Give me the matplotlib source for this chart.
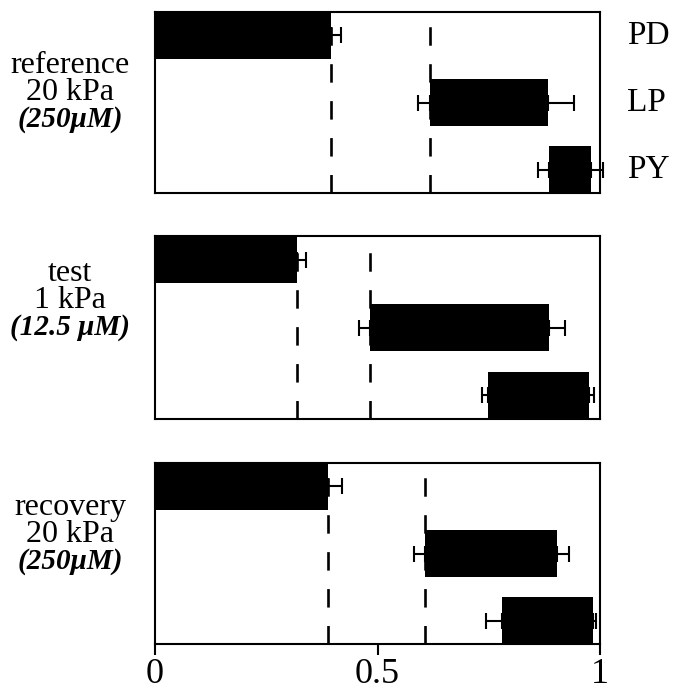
import matplotlib
matplotlib.use("Agg")
import matplotlib.pyplot as plt
import numpy as np

plt.rcParams['font.family'] = ['Liberation Serif', 'DejaVu Serif']

# ---- data (phase, fraction of cycle) ----
conditions = ["reference", "test", "recovery"]
pressures = ["20 kPa", "1 kPa", "20 kPa"]
concentrations = ["(250\u03bcM)", "(12.5 \u03bcM)", "(250\u03bcM)"]
neurons = ["PD", "LP", "PY"]

pd_end      = [0.396, 0.319, 0.389]
pd_end_err  = [0.023, 0.020, 0.031]
lp_start    = [0.619, 0.483, 0.607]
lp_start_err= [0.028, 0.025, 0.025]
lp_end      = [0.884, 0.886, 0.903]
lp_end_err  = [0.058, 0.035, 0.028]
py_start    = [0.886, 0.748, 0.779]
py_start_err= [0.026, 0.014, 0.036]
py_end      = [0.980, 0.976, 0.985]
py_end_err  = [0.026, 0.010, 0.006]

xticks = [0, 0.5, 1]
xticklabels = ["0", "0.5", "1"]

W, H = 676, 691
fig = plt.figure(figsize=(W / 100, H / 100), dpi=100)

# panel pixel boxes (top, bottom)
panels_px = [(12, 193), (236, 419), (463, 644)]
left_px, right_px = 155, 600

# left label baselines (pixels from top)
label_base = [(73, 100, 127), (281, 308, 335), (515, 542, 569)]
label_xc = 70

lw = 1.5
for i, (top, bot) in enumerate(panels_px):
    ax = fig.add_axes([left_px / W, 1 - bot / H, (right_px - left_px) / W, (bot - top) / H])
    starts = [0.0, lp_start[i], py_start[i]]
    ends = [pd_end[i], lp_end[i], py_end[i]]
    rows = [0, 1, 2]
    widths = [e - s for s, e in zip(starts, ends)]
    ax.barh(rows, widths, left=starts, height=0.7, color='black', zorder=3)

    # dashed reference lines
    ax.axvline(pd_end[i], color='black', lw=1.9, ls=(0, (7, 7)), zorder=1)
    ax.axvline(lp_start[i], color='black', lw=1.9, ls=(0, (7, 7)), zorder=1)

    # error bars: on ends (right side) and starts (left side)
    ekw = dict(fmt='none', ecolor='black', elinewidth=lw, capsize=6, capthick=lw,
               zorder=4, clip_on=False)
    ax.errorbar([pd_end[i], lp_end[i], py_end[i]], rows,
                xerr=[[0, 0, 0], [pd_end_err[i], lp_end_err[i], py_end_err[i]]], **ekw)
    ax.errorbar([lp_start[i], py_start[i]], [1, 2],
                xerr=[[lp_start_err[i], py_start_err[i]], [0, 0]], **ekw)

    ax.set_xlim(0, 1)
    ax.set_ylim(2.35, -0.35)
    ax.set_yticks([])
    for s in ax.spines.values():
        s.set_linewidth(lw)
    if i == 2:
        ax.set_xticks(xticks)
        ax.set_xticklabels(xticklabels, fontsize=26)
        ax.tick_params(axis='x', direction='out', length=8, width=lw, pad=2)
    else:
        ax.set_xticks([])

    if i == 0:
        for r, name in enumerate(neurons):
            ax.text(1.06, r, name, fontsize=24, va='center', ha='left',
                    transform=ax.get_yaxis_transform())

    b = label_base[i]
    fig.text(label_xc / W, 1 - b[0] / H, conditions[i], fontsize=23, ha='center', va='baseline')
    fig.text(label_xc / W, 1 - b[1] / H, pressures[i], fontsize=23, ha='center', va='baseline')
    fig.text(label_xc / W, 1 - b[2] / H, concentrations[i], fontsize=21, ha='center',
             va='baseline', style='italic', weight='bold')

fig.savefig("out.png", dpi=100)
